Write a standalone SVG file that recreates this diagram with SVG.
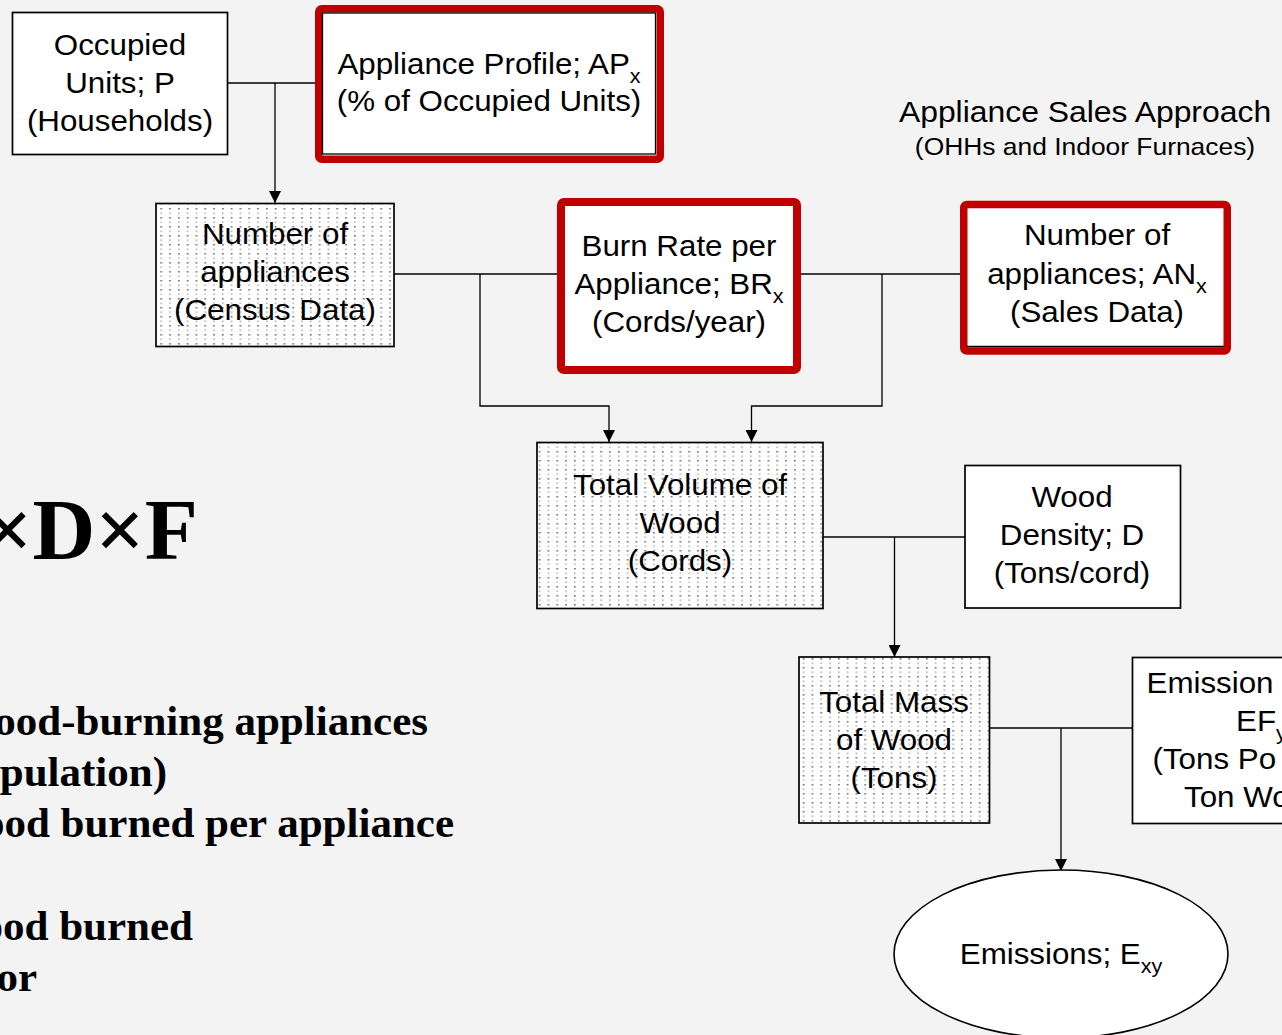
<svg xmlns="http://www.w3.org/2000/svg" width="1282" height="1035" viewBox="0 0 1282 1035">
<defs>
<style>
.t{font-family:"Liberation Sans",Arial,sans-serif;font-size:29px;fill:#000;text-anchor:middle}
.ts{font-family:"Liberation Sans",Arial,sans-serif;font-size:29px;fill:#000}
.sub{font-size:20px}
.box{fill:#fff;stroke:#000;stroke-width:1.7}
.dot{fill:url(#dots);stroke:#000;stroke-width:1.7}
.red{fill:#fff;stroke:#c00000;stroke-linejoin:round}
.ln{fill:none;stroke:#000;stroke-width:1.3}
.big{font-family:"Liberation Serif","Times New Roman",serif;font-weight:bold;fill:#000;text-anchor:end}
</style>
<pattern id="dots" width="8.8" height="9" patternUnits="userSpaceOnUse">
<rect width="8.8" height="9" fill="#fff"/>
<rect x="2" y="1" width="1.6" height="1.6" fill="#6e6e6e"/>
<rect x="2.2" y="5.3" width="1.2" height="1.8" fill="#a8a8a8"/>
</pattern>
<marker id="arr" viewBox="0 0 12 12" refX="12" refY="6" markerWidth="13" markerHeight="12" markerUnits="userSpaceOnUse" orient="auto">
<path d="M0,0 L12,6 L0,12 z" fill="#000"/>
</marker>
</defs>
<rect width="1282" height="1035" fill="#f3f3f3"/>

<g id="formula">
<text class="big" x="198" y="559" font-size="87">×D×F</text>
<text class="big" x="428" y="735" font-size="43">ood-burning appliances</text>
<text class="big" x="167" y="786" font-size="43">pulation)</text>
<text class="big" x="454" y="837" font-size="43">ood burned per appliance</text>
<text class="big" x="193" y="940" font-size="43">ood burned</text>
<text class="big" x="37" y="991" font-size="43">or</text>
</g>

<g id="connectors">
<path class="ln" d="M227,83 H315"/>
<path class="ln" d="M275,83 V203" marker-end="url(#arr)"/>
<path class="ln" d="M394,274 H557"/>
<path class="ln" d="M480,274 V406 H609 V442" marker-end="url(#arr)"/>
<path class="ln" d="M801,274 H960"/>
<path class="ln" d="M882,274 V406 H751.5 V442" marker-end="url(#arr)"/>
<path class="ln" d="M823,537 H965"/>
<path class="ln" d="M894.5,537 V657" marker-end="url(#arr)"/>
<path class="ln" d="M990,728 H1132"/>
<path class="ln" d="M1061,728 V871" marker-end="url(#arr)"/>
</g>

<g id="title">
<g transform="translate(1085,0) scale(1.1,1)">
<text class="t" x="0" y="122" style="font-size:29px">Appliance Sales Approach</text>
<text class="t" x="0" y="155" style="font-size:24px">(OHHs and Indoor Furnaces)</text>
</g>
</g>

<g id="occupied-units">
<rect class="box" x="12.5" y="12.5" width="215" height="142"/>
<g transform="translate(120,0) scale(1.08,1)">
<text class="t" x="0" y="55">Occupied</text>
<text class="t" x="0" y="93">Units; P</text>
<text class="t" x="0" y="131">(Households)</text>
</g>
</g>

<g id="appliance-profile">
<rect class="red" x="318.75" y="8.75" width="341.5" height="150.5" rx="3" stroke-width="7.5"/>
<rect x="322.5" y="13" width="333" height="141" fill="none" stroke="#000" stroke-width="1.3"/>
<g transform="translate(489,0) scale(1.08,1)">
<text class="t" x="0" y="74">Appliance Profile; AP<tspan class="sub" dy="9">x</tspan></text>
<text class="t" x="0" y="111">(% of Occupied Units)</text>
</g>
</g>

<g id="number-appliances-census">
<rect class="dot" x="156" y="203.5" width="238" height="143"/>
<g transform="translate(275,0) scale(1.08,1)">
<text class="t" x="0" y="244">Number of</text>
<text class="t" x="0" y="282">appliances</text>
<text class="t" x="0" y="320">(Census Data)</text>
</g>
</g>

<g id="burn-rate">
<rect class="red" x="561" y="202" width="236" height="168" rx="3" stroke-width="8"/>
<g transform="translate(679,0) scale(1.08,1)">
<text class="t" x="0" y="256">Burn Rate per</text>
<text class="t" x="0" y="294">Appliance; BR<tspan class="sub" dy="9">x</tspan></text>
<text class="t" x="0" y="332">(Cords/year)</text>
</g>
</g>

<g id="number-appliances-sales">
<rect class="red" x="963.75" y="204.5" width="263.5" height="146.5" rx="3" stroke-width="7.5"/>
<path d="M967,346.5 H1224" stroke="#000" stroke-width="1.3"/>
<g transform="translate(1097,0) scale(1.08,1)">
<text class="t" x="0" y="245">Number of</text>
<text class="t" x="0" y="284">appliances; AN<tspan class="sub" dy="9">x</tspan></text>
<text class="t" x="0" y="322">(Sales Data)</text>
</g>
</g>

<g id="total-volume">
<rect class="dot" x="537" y="442.5" width="286" height="166"/>
<g transform="translate(680,0) scale(1.08,1)">
<text class="t" x="0" y="495">Total Volume of</text>
<text class="t" x="0" y="533">Wood</text>
<text class="t" x="0" y="571">(Cords)</text>
</g>
</g>

<g id="wood-density">
<rect class="box" x="965" y="465.5" width="215.5" height="142.5"/>
<g transform="translate(1072,0) scale(1.08,1)">
<text class="t" x="0" y="507">Wood</text>
<text class="t" x="0" y="545">Density; D</text>
<text class="t" x="0" y="583">(Tons/cord)</text>
</g>
</g>

<g id="total-mass">
<rect class="dot" x="799" y="657" width="190.5" height="166"/>
<g transform="translate(894,0) scale(1.08,1)">
<text class="t" x="0" y="712">Total Mass</text>
<text class="t" x="0" y="750">of Wood</text>
<text class="t" x="0" y="788">(Tons)</text>
</g>
</g>

<g id="emission-factor">
<rect class="box" x="1132.5" y="657.5" width="200" height="166"/>
<g transform="translate(1146.5,0) scale(1.08,1)">
<text class="ts" x="0" y="693">Emission</text>
</g>
<g transform="translate(1236,0) scale(1.08,1)">
<text class="ts" x="0" y="731">EF<tspan class="sub" dy="9">y</tspan></text>
</g>
<g transform="translate(1152.5,0) scale(1.08,1)">
<text class="ts" x="0" y="769">(Tons Po</text>
</g>
<g transform="translate(1184,0) scale(1.08,1)">
<text class="ts" x="0" y="807">Ton Wo</text>
</g>
</g>

<g id="emissions">
<ellipse cx="1061" cy="954" rx="167" ry="84" fill="#fff" stroke="#000" stroke-width="1.6"/>
<g transform="translate(1061,0) scale(1.08,1)">
<text class="t" x="0" y="964">Emissions; E<tspan class="sub" dy="9">xy</tspan></text>
</g>
</g>
</svg>
